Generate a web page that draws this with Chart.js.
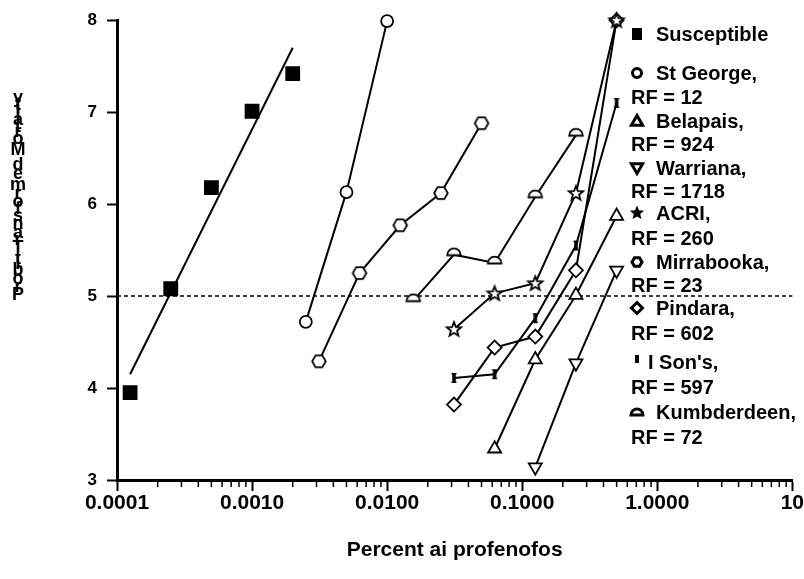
<!DOCTYPE html>
<html>
<head>
<meta charset="utf-8">
<script src="https://cdn.jsdelivr.net/npm/chart.js@4.4.0/dist/chart.umd.min.js"></script>
<style>
  html, body { margin: 0; padding: 0; background: #fff; }
  #wrap { width: 804px; height: 579px; position: relative; }
</style>
</head>
<body>
<div id="wrap"><canvas id="chart"></canvas></div>
<script>
const FONT = '"Liberation Sans", Arial, sans-serif';

// dose (percent ai) and probit mortality
const suscX = [0.000125, 0.00025, 0.0005, 0.001, 0.002];
const suscY = [3.95, 5.08, 6.18, 7.01, 7.42];
const suscFitX = [0.000125, 0.002];
const suscFitY = [4.15, 7.70];
const stGeorgeX = [0.0025, 0.005, 0.01];
const stGeorgeY = [4.72, 6.13, 7.99];
const belapaisX = [0.0625, 0.125, 0.25, 0.5];
const belapaisY = [3.34, 4.31, 5.01, 5.87];
const warrianaX = [0.125, 0.25, 0.5];
const warrianaY = [3.14, 4.27, 5.28];
const acriX = [0.03125, 0.0625, 0.125, 0.25, 0.5];
const acriY = [4.64, 5.03, 5.14, 6.12, 8.0];
const mirrabookaX = [0.003125, 0.00625, 0.0125, 0.025, 0.05];
const mirrabookaY = [4.29, 5.25, 5.77, 6.12, 6.88];
const pindaraX = [0.03125, 0.0625, 0.125, 0.25, 0.5];
const pindaraY = [3.82, 4.44, 4.56, 5.28, 8.0];
const isonsX = [0.03125, 0.0625, 0.125, 0.25, 0.5];
const isonsY = [4.11, 4.15, 4.76, 5.55, 7.10];
const kumbX = [0.015625, 0.03125, 0.0625, 0.125, 0.25];
const kumbY = [4.95, 5.45, 5.36, 6.08, 6.75];
const refX = [0.0001, 10];
const refY = [5, 5];

const seriesNames = ['Susceptible', 'St George', 'Belapais', 'Warriana', 'ACRI', 'Mirrabooka', 'Pindara', "I Son's", 'Kumbderdeen'];
const rfValues = [null, 12, 924, 1718, 260, 23, 602, 597, 72];
const legendMarks = ['square', 'circle', 'tri', 'tridown', 'star', 'hex', 'diamond', 'ibar', 'dome'];

const xTickValues = [0.0001, 0.001, 0.01, 0.1, 1, 10];
const xTickLabels = ['0.0001', '0.0010', '0.0100', '0.1000', '1.0000', '10'];
const yTitle = 'Probit Transformed Mortality';
const xTitle = 'Percent ai profenofos';

const pts = (xs, ys) => xs.map((x, i) => ({ x, y: ys[i] }));
const isDecade = v => Math.abs(Math.log10(v) - Math.round(Math.log10(v))) < 1e-6;
const xAllTicks = [];
xTickValues.forEach((d, i) => {
  if (i === xTickValues.length - 1) { xAllTicks.push(d); return; }
  for (let k = 1; k <= 9; k++) xAllTicks.push(k * d);
});

// marker shapes
function hexPath(g, x, y, r) {
  g.beginPath();
  for (let i = 0; i < 6; i++) {
    const a = Math.PI / 3 * i;
    const px = x + r * Math.cos(a), py = y + r * Math.sin(a);
    if (i) g.lineTo(px, py); else g.moveTo(px, py);
  }
  g.closePath();
}
function starPath(g, x, y, ro, ri) {
  g.beginPath();
  for (let i = 0; i < 10; i++) {
    const a = -Math.PI / 2 + Math.PI / 5 * i;
    const r = i % 2 ? ri : ro;
    const px = x + r * Math.cos(a), py = y + r * Math.sin(a);
    if (i) g.lineTo(px, py); else g.moveTo(px, py);
  }
  g.closePath();
}
function domePath(g, x, y, r) {
  g.beginPath();
  g.arc(x, y, r, Math.PI, 0);
  g.closePath();
}
function triPath(g, x, y, r, down) {
  const s = down ? -1 : 1;
  g.beginPath();
  g.moveTo(x, y - s * r);
  g.lineTo(x + r * 0.866, y + s * r / 2);
  g.lineTo(x - r * 0.866, y + s * r / 2);
  g.closePath();
}
function makeMarker(size, draw) {
  const c = document.createElement('canvas');
  c.width = size; c.height = size;
  const g = c.getContext('2d');
  g.fillStyle = '#fff'; g.strokeStyle = '#000'; g.lineWidth = 1.8;
  draw(g, size / 2);
  return c;
}
const hexMark = makeMarker(18, (g, c) => { hexPath(g, c, c, 6.8); g.fill(); g.stroke(); });
const starMark = makeMarker(20, (g, c) => { starPath(g, c, c + 0.5, 7.5, 3.2); g.fill(); g.stroke(); });
const domeMark = makeMarker(18, (g, c) => { domePath(g, c, c + 0.5, 6.8); g.fill(); g.stroke(); });
const ibarMark = makeMarker(14, (g, c) => {
  g.fillStyle = '#000';
  g.fillRect(c - 1.75, c - 5, 3.5, 10);
  g.fillRect(c - 2.5, c - 5, 5, 1.5);
  g.fillRect(c - 2.5, c + 3.5, 5, 1.5);
});

function lineSet(label, xs, ys, style, extra) {
  return Object.assign({
    label, data: pts(xs, ys), showLine: true, clip: false,
    borderColor: '#000', borderWidth: 2,
    pointStyle: style, pointRadius: 6.5,
    pointBackgroundColor: '#fff', pointBorderColor: '#000', pointBorderWidth: 1.8
  }, extra || {});
}

const datasets = [
  lineSet('Susceptible', suscX, suscY, 'rect', { showLine: false, pointRadius: 9.2, pointBackgroundColor: '#000' }),
  lineSet('Susceptible fit', suscFitX, suscFitY, false, { pointRadius: 0 }),
  lineSet('St George', stGeorgeX, stGeorgeY, 'circle', { pointRadius: 6 }),
  lineSet('Belapais', belapaisX, belapaisY, 'triangle', { pointRadius: 7.5 }),
  lineSet('Warriana', warrianaX, warrianaY, 'triangle', { pointRadius: 7.5, pointRotation: 180 }),
  lineSet('ACRI', acriX, acriY, starMark),
  lineSet('Mirrabooka', mirrabookaX, mirrabookaY, hexMark),
  lineSet('Pindara', pindaraX, pindaraY, 'rectRot', { pointRadius: 7 }),
  lineSet("I Son's", isonsX, isonsY, ibarMark),
  lineSet('Kumbderdeen', kumbX, kumbY, domeMark),
  lineSet('LD50', refX, refY, false, { pointRadius: 0, borderWidth: 1.5, borderDash: [4, 3], order: 10 })
];

const legendY = [34, 73, 121, 168, 213, 262, 308, 362, 412];
const legendRfY = [null, 97, 144, 191, 238, 285, 333, 387, 437];

function drawLegendMark(g, kind, x, y) {
  g.save();
  g.fillStyle = '#000'; g.strokeStyle = '#000'; g.lineWidth = 3;
  if (kind === 'square') g.fillRect(x - 5, y - 6, 10, 12);
  else if (kind === 'circle') { g.beginPath(); g.arc(x, y, 4.5, 0, Math.PI * 2); g.stroke(); }
  else if (kind === 'tri') { triPath(g, x, y + 1, 6.5, false); g.stroke(); }
  else if (kind === 'tridown') { triPath(g, x, y - 1, 6.5, true); g.stroke(); }
  else if (kind === 'star') { starPath(g, x, y, 7.5, 3.4); g.fill(); }
  else if (kind === 'hex') { hexPath(g, x, y, 5); g.stroke(); }
  else if (kind === 'diamond') { g.beginPath(); g.moveTo(x, y - 5.5); g.lineTo(x + 5.5, y); g.lineTo(x, y + 5.5); g.lineTo(x - 5.5, y); g.closePath(); g.stroke(); }
  else if (kind === 'ibar') g.fillRect(x - 2, y - 7, 4, 8);
  else if (kind === 'dome') { domePath(g, x, y + 3, 6); g.stroke(); }
  g.restore();
}

const extras = {
  id: 'extras',
  afterDraw(chart) {
    const g = chart.ctx;
    const xs = chart.scales.x;
    // minor ticks
    g.save();
    g.strokeStyle = '#000'; g.lineWidth = 1.5;
    xs.ticks.forEach(t => {
      if (isDecade(t.value)) return;
      const px = xs.getPixelForValue(t.value);
      g.beginPath(); g.moveTo(px, xs.top); g.lineTo(px, xs.top + 7); g.stroke();
    });
    g.restore();

    // y title: upright letters stacked bottom to top, advanced by 15px metrics
    g.save();
    g.fillStyle = '#000';
    g.textAlign = 'center';
    g.textBaseline = 'middle';
    g.font = 'bold 15px ' + FONT;
    const adv = [...yTitle].map(ch => g.measureText(ch).width);
    const total = adv.reduce((s, w) => s + w, 0);
    const start = 197 + total / 2;
    g.font = 'bold 18px ' + FONT;
    let off = 0;
    [...yTitle].forEach((ch, i) => {
      if (ch !== ' ') g.fillText(ch, 18, start - off - adv[i] / 2);
      off += adv[i];
    });
    g.restore();

    // legend
    g.save();
    g.font = 'bold 20px ' + FONT;
    g.fillStyle = '#000';
    g.textBaseline = 'middle';
    seriesNames.forEach((name, i) => {
      drawLegendMark(g, legendMarks[i], 637, legendY[i]);
      const tx = legendMarks[i] === 'ibar' ? 648 : 656;
      g.fillText(rfValues[i] === null ? name : name + ',', tx, legendY[i] + 1);
      if (rfValues[i] !== null) g.fillText('RF = ' + rfValues[i], 631, legendRfY[i] + 1);
    });
    g.restore();
  }
};

new Chart(document.getElementById('chart'), {
  type: 'scatter',
  data: { datasets },
  plugins: [extras],
  options: {
    responsive: true,
    maintainAspectRatio: false,
    animation: false,
    layout: { padding: { left: 0, top: 18, right: 11, bottom: 0 } },
    plugins: { legend: { display: false }, tooltip: { enabled: false } },
    elements: { line: { tension: 0 } },
    scales: {
      x: {
        type: 'logarithmic', min: 0.0001, max: 10,
        afterBuildTicks: s => { s.ticks = xAllTicks.map(v => ({ value: v })); },
        afterFit: s => { s.height = 99; },
        border: { display: true, color: '#000', width: 3 },
        grid: {
          drawOnChartArea: false, drawTicks: true, tickLength: 11, tickWidth: 2,
          tickColor: c => (c.tick && isDecade(c.tick.value)) ? '#000' : 'rgba(0,0,0,0)'
        },
        ticks: {
          autoSkip: false, maxRotation: 0, minRotation: 0, padding: 0, color: '#000',
          font: { family: FONT, size: 21, weight: 'bold' },
          callback: v => {
            const i = xTickValues.findIndex(t => Math.abs(Math.log10(t) - Math.log10(v)) < 1e-6);
            return i >= 0 ? xTickLabels[i] : '';
          }
        },
        title: {
          display: true, text: xTitle, color: '#000',
          font: { family: FONT, size: 21, weight: 'bold' },
          padding: { top: 0, bottom: 16 }
        }
      },
      y: {
        type: 'linear', min: 3, max: 8,
        afterFit: s => { s.width = 117; },
        border: { display: true, color: '#000', width: 3 },
        grid: { drawOnChartArea: false, tickLength: 10, tickWidth: 2, tickColor: '#000' },
        ticks: { stepSize: 1, padding: 10, color: '#000', font: { family: FONT, size: 17, weight: 'bold' } }
      }
    }
  }
});
</script>
</body>
</html>
